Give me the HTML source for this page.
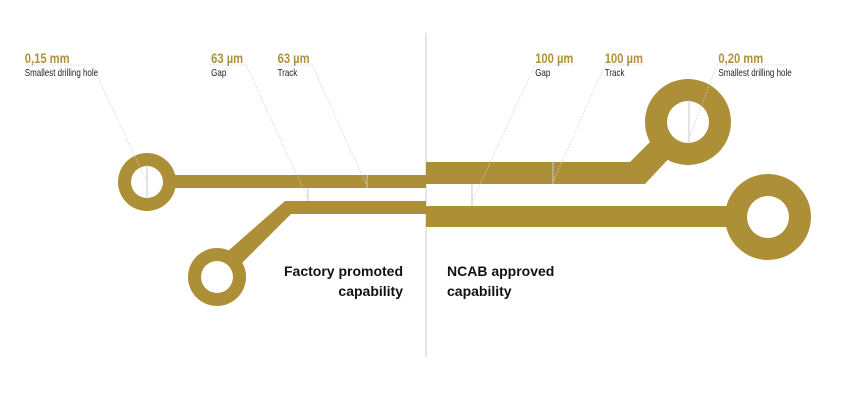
<!DOCTYPE html>
<html><head><meta charset="utf-8"><style>
html,body{margin:0;padding:0;background:#fff;}
svg{display:block}
.t{font-family:"Liberation Sans",sans-serif;font-weight:bold;fill:#b0913a;font-size:14px}
.s{font-family:"Liberation Sans",sans-serif;fill:#222;font-size:10px}
.b{font-family:"Liberation Sans",sans-serif;font-weight:bold;fill:#111;font-size:14px}
.d{stroke:#d0d0d0;stroke-width:0.8;stroke-dasharray:1.5 1.5;fill:none}
.k{stroke:#c8c8c8;stroke-width:1;fill:none}
</style></head><body>
<svg width="850" height="412" viewBox="0 0 850 412">
<line x1="426" y1="33" x2="426" y2="357" stroke="#ccc" stroke-width="1"/>
<g fill="#ad8f38">
<rect x="170" y="175" width="256" height="13"/>
<circle cx="147" cy="182" r="29"/>
<path d="M285 201 L426 201 L426 214 L291 214 L228 277 L212 265 Z"/>
<circle cx="217" cy="277" r="29"/>
<path d="M426 162 L630 162 L672 120 L690 136 L645 184 L426 184 Z"/>
<circle cx="688" cy="122" r="43"/>
<rect x="426" y="206" width="340" height="21"/>
<circle cx="768" cy="217" r="43"/>
</g>
<g fill="#fff">
<circle cx="147" cy="182" r="16"/>
<circle cx="217" cy="277" r="16"/>
<circle cx="688" cy="122" r="21"/>
<circle cx="768" cy="217" r="21"/>
</g>
<g class="k">
<line x1="147" y1="165" x2="147" y2="197"/>
<line x1="308" y1="188" x2="308" y2="201"/>
<line x1="367" y1="175" x2="367" y2="188"/>
<line x1="472" y1="184" x2="472" y2="206"/>
<line x1="553" y1="162" x2="553" y2="184"/>
<line x1="689" y1="100" x2="689" y2="142"/>
</g>
<g class="d">
<polyline points="25,65 92,65 147,182"/>
<polyline points="210,65 246,65 308,199"/>
<polyline points="276,65 312,65 367,186"/>
<polyline points="574,65 535,65 472,202"/>
<polyline points="642,65 605,65 553,182"/>
<polyline points="784,65 717,65 689,138"/>
</g>
<g transform="scale(0.8,1)">
<text class="t" x="31" y="63">0,15 mm</text>
<text class="s" x="31" y="76">Smallest drilling hole</text>
<text class="t" x="264" y="63">63 µm</text>
<text class="s" x="264" y="76">Gap</text>
<text class="t" x="347" y="63">63 µm</text>
<text class="s" x="347" y="76">Track</text>
<text class="t" x="669" y="63">100 µm</text>
<text class="s" x="669" y="76">Gap</text>
<text class="t" x="756" y="63">100 µm</text>
<text class="s" x="756" y="76">Track</text>
<text class="t" x="898" y="63">0,20 mm</text>
<text class="s" x="898" y="76">Smallest drilling hole</text>
</g>
<text class="b" x="403" y="276" text-anchor="end">Factory promoted</text>
<text class="b" x="403" y="296" text-anchor="end">capability</text>
<text class="b" x="447" y="276">NCAB approved</text>
<text class="b" x="447" y="296">capability</text>
</svg>
</body></html>
